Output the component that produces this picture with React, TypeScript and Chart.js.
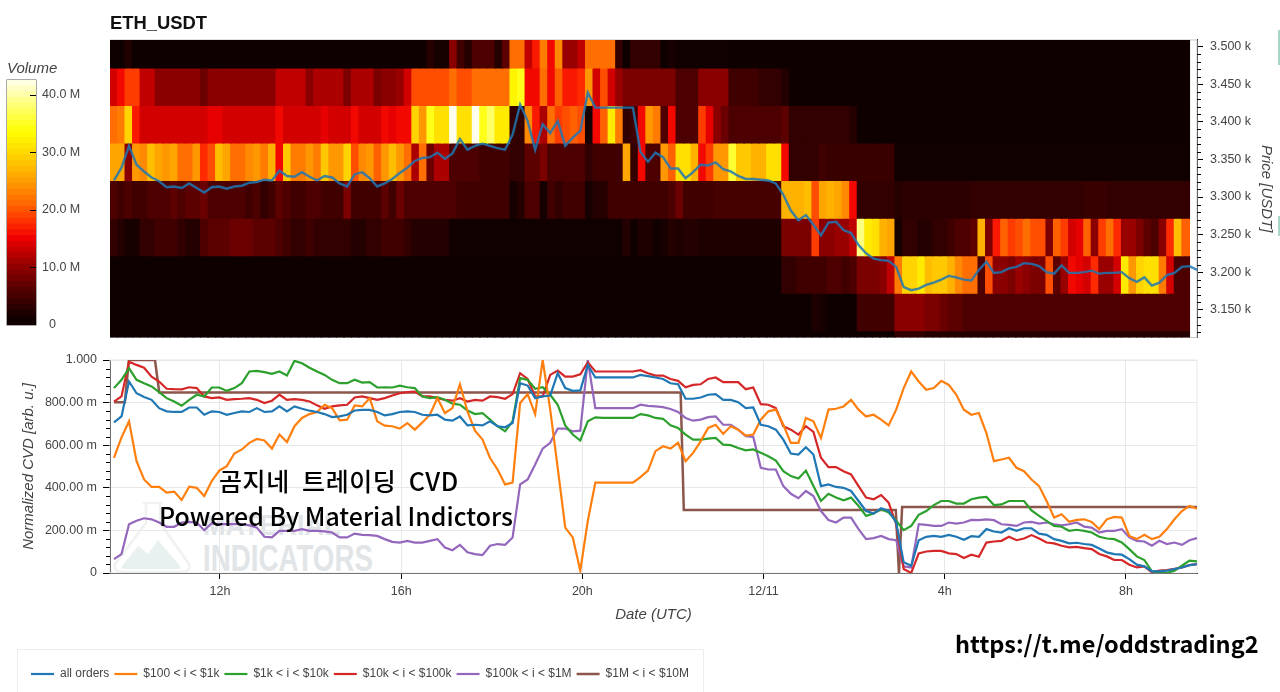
import { useEffect, useRef } from 'react';
import { Chart, registerables } from 'chart.js';

Chart.register(...registerables);

const FONT = '"Liberation Sans", Arial, sans-serif';
const TEXT = '#444444';

// price bins of the heatmap, top to bottom [low, high] in USDT
const PRICE_BINS = [
  [3472, 3522],
  [3422, 3472],
  [3372, 3422],
  [3322, 3372],
  [3272, 3322],
  [3222, 3272],
  [3172, 3222],
  [3122, 3172],
  [3072, 3122],
];

// volume in millions, one value per 10 minute column
const heat3472 = [
  .4, .4, 1.5, .4, .4, .4, .4, .4, .4, .4,
  .4, .4, .4, .4, .4, .4, .4, .4, .4, .4,
  .4, .4, .4, .4, .4, .4, .4, .4, .4, .4,
  .4, .4, .4, .4, .4, .4, .4, .4, .4, .4,
  .4, .4, 2, 1, 1, 9, 4, 2, 5, 5,
  5, 2, 6, 21, 21, 12, 16, 22, 15, 23,
  10, 10, 12, 21, 21, 21, 21, 3, .4, 3,
  3, 3, 3, .4, 1, .5, .5, .5, .5, .5,
  .5, .5, .4, .4, .4, .4, .4, .4, .4, .4,
  .4, .4, .4, .4, .4, .4, .4, .4, .4, .4,
  .4, .4, .4, .4, .4, .4, .4, .4, .4, .4,
  .4, .4, .4, .4, .4, .4, .4, .4, .4, .4,
  .4, .4, .4, .4, .4, .4, .4, .4, .4, .4,
  .4, .4, .4, .4, .4, .4, .4, .4, .4, .4,
  .4, .4, .4,
];
const heat3422 = [
  13, 15, 18, 18, 12, 12, 9, 9, 9, 9,
  9, 9, 7, 9, 9, 9, 9, 9, 9, 9,
  9, 9, 12, 12, 12, 12, 9, 11, 11, 11,
  11, 8, 11, 11, 11, 8, 9, 9, 10, 13,
  19, 19, 19, 19, 19, 21, 19, 19, 21, 21,
  21, 21, 21, 32, 34, 15, 15, 21, 15, 20,
  16, 16, 17, 24, 13, 19, 13, 10, 8, 8,
  8, 8, 8, 8, 8, 5, 5, 5, 9, 9,
  9, 9, 4, 4, 4, 4, 3, 3, 3, 2,
  .4, .4, .4, .4, .4, .4, .4, .4, .4, .4,
  .4, .4, .4, .4, .4, .4, .4, .4, .4, .4,
  .4, .4, .4, .4, .4, .4, .4, .4, .4, .4,
  .4, .4, .4, .4, .4, .4, .4, .4, .4, .4,
  .4, .4, .4, .4, .4, .4, .4, .4, .4, .4,
  .4, .4, .4,
];
const heat3372 = [
  21, 22, 29, 16, 13, 13, 13, 13, 13, 13,
  13, 13, 13, 14, 14, 13, 13, 13, 13, 13,
  13, 13, 15, 13, 13, 13, 13, 13, 14, 13,
  13, 13, 15, 13, 13, 13, 15, 14, 15, 15,
  29, 24, 34, 30, 30, 42, 30, 30, 42, 34,
  37, 31, 31, 3, 3, 23, 16, 11, 21, 18,
  19, 20, 19, 1, 15, 20, 31, 22, 3, 4,
  15, 24, 22, 5, 15, 5, 5, 5, 18, 14,
  9, 7, 5, 5, 5, 5, 5, 5, 5, 6,
  3, 3, 3, 3, 3, 3, 3, 3, 2, .4,
  .4, .4, .4, .4, .4, .4, .4, .4, .4, .4,
  .4, .4, .4, .4, .4, .4, .4, .4, .4, .4,
  .4, .4, .4, .4, .4, .4, .4, .4, .4, .4,
  .4, .4, .4, .4, .4, .4, .4, .4, .4, .4,
  .4, .4, .4,
];
const heat3322 = [
  25, 25, 9, 24, 23, 27, 25, 24, 25, 21,
  21, 24, 17, 19, 27, 25, 21, 21, 23, 24,
  22, 26, 15, 28, 22, 22, 24, 22, 28, 24,
  24, 29, 19, 23, 24, 20, 24, 27, 24, 21,
  11, 21, 7, 11, 11, 5, 5, 5, 5, 4,
  4, 4, 4, 3, 3, 6, 6, 8, 5, 5,
  5, 5, 5, 3, 4, 4, 4, 4, 25, 3,
  15, 5, 5, 24, 20, 30, 30, 26, 15, 18,
  24, 24, 35, 28, 28, 26, 26, 30, 30, 15,
  3, 3, 3, 3, 4, 3.5, 3.5, 3.5, 3.5, 3.5,
  3.5, 3.5, 3.5, 3.5, .5, .5, .5, .5, .5, .5,
  .5, .5, .5, .5, .5, .5, .5, .5, .5, .5,
  .5, .5, .5, .5, .5, .5, .5, .5, .5, .5,
  .5, .5, .5, .5, .5, .5, .5, .5, .5, .5,
  .5, .5, .5,
];
const heat3272 = [
  5, 4, 5, 4, 4, 5, 5, 5, 6, 5,
  6, 6, 7, 5, 5, 5, 5, 5, 4, 5,
  3, 4, 6, 5, 4, 4, 5, 5, 4, 4,
  4, 8, 4, 4, 4, 4, 6, 4, 7, 5,
  5, 5, 5, 5, 5, 5, 4, 4, 4, 4,
  4, 4, 4, 1, 2, 5, 5, 1, 4, 3,
  4, 4, 4, 1, 2, 2, 4, 4, 4, 4,
  4, 4, 4, 4, 5, 7, 4, 4, 4, 4,
  4.5, 4.5, 4.5, 4.5, 4.5, 4.5, 4.5, 4.5, 4.5, 26,
  26, 26, 27, 19, 25, 26, 25, 23, 15, 3,
  3, 3, 3, 3, 2, 2.5, 2.5, 2.5, 2.5, 2.5,
  2.5, 2.5, 2.5, 2.5, 3, 3, 3, 3, 3, 3,
  3, 3, 3, 3, 3, 3, 3, 3, 3, 3.5,
  3.5, 3.5, 3, 3, 3, 3, 3, 3, 3, 3,
  3, 3, 3,
];
const heat3222 = [
  3, 2, 1, 1, 3, 3, 4, 4, 4, 3,
  2, 2, 5, 6, 6, 6, 7, 7, 7, 6,
  6, 6, 5, 4, 3, 3, 4, 3, 3, 3,
  3, 3, 2, 2, 3, 3, 4, 4, 4, 3,
  2, 2, 2, 2, 2, .5, .5, .5, .5, .5,
  .5, .5, .5, .5, .5, .5, .5, .5, .5, .5,
  .5, .5, .5, .5, .5, .5, .5, .5, 2, .5,
  1.5, 1.5, .5, 1, 2, 1.5, 2, 2, 1.5, 1.5,
  1.5, 1.5, 1.5, 1.5, 1.5, 1.5, 1.5, 1.5, 1.5, 8,
  8, 8, 8, 18, 9, 9, 10, 10, 12, 38,
  31, 30, 26, 25, 1, 3, 3, 2, 2, 3,
  3, 4, 5, 5, 6, 26, 8, 16, 20, 18,
  19, 21, 19, 19, 8, 20, 18, 13, 14, 20,
  9, 18, 21, 17, 10, 10, 8, 6, 5, 9,
  17, 27, 20,
];
const heat3172 = [
  .4, .4, .4, .4, .4, .4, .4, .4, .4, .4,
  .4, .4, .4, .4, .4, .4, .4, .4, .4, .4,
  .4, .4, .4, .4, .4, .4, .4, .4, .4, .4,
  .4, .4, .4, .4, .4, .4, .4, .4, .4, .4,
  .4, .4, .4, .4, .4, .4, .4, .4, .4, .4,
  .4, .4, .4, .4, .4, .4, .4, .4, .4, .4,
  .4, .4, .4, .4, .4, .4, .4, .4, .4, .4,
  .4, .4, .4, .4, .4, .4, .4, .4, .4, .4,
  .4, .4, .4, .4, .4, .4, .4, .4, .4, 3,
  3, 4, 4, 4, 4, 5, 5, 4, 5, 8,
  8, 8, 9, 12, 22, 29, 29, 31, 27, 28,
  28, 26, 23, 21, 21, 5, 19, 9, 9, 8,
  10, 9, 8, 8, 19, 6, 10, 15, 14, 13,
  17, 10, 10, 13, 31, 24, 29, 30, 30, 22,
  13, 5, 5,
];
const heat3122 = [
  .4, .4, .4, .4, .4, .4, .4, .4, .4, .4,
  .4, .4, .4, .4, .4, .4, .4, .4, .4, .4,
  .4, .4, .4, .4, .4, .4, .4, .4, .4, .4,
  .4, .4, .4, .4, .4, .4, .4, .4, .4, .4,
  .4, .4, .4, .4, .4, .4, .4, .4, .4, .4,
  .4, .4, .4, .4, .4, .4, .4, .4, .4, .4,
  .4, .4, .4, .4, .4, .4, .4, .4, .4, .4,
  .4, .4, .4, .4, .4, .4, .4, .4, .4, .4,
  .4, .4, .4, .4, .4, .4, .4, .4, .4, .4,
  .4, .4, .4, 1.5, 1, .4, .4, .4, .4, 4,
  4, 4, 4, 4, 9, 9, 9, 9, 8, 8,
  7, 6, 6, 5, 5, 5, 5, 5, 5, 5,
  5, 5, 5, 5, 5, 5, 5, 5, 5, 5,
  5, 5, 5, 5, 5, 5, 5, 5, 5, 5,
  5, 5, 5,
];
const heat3072 = [
  .4, .4, .4, .4, .4, .4, .4, .4, .4, .4,
  .4, .4, .4, .4, .4, .4, .4, .4, .4, .4,
  .4, .4, .4, .4, .4, .4, .4, .4, .4, .4,
  .4, .4, .4, .4, .4, .4, .4, .4, .4, .4,
  .4, .4, .4, .4, .4, .4, .4, .4, .4, .4,
  .4, .4, .4, .4, .4, .4, .4, .4, .4, .4,
  .4, .4, .4, .4, .4, .4, .4, .4, .4, .4,
  .4, .4, .4, .4, .4, .4, .4, .4, .4, .4,
  .4, .4, .4, .4, .4, .4, .4, .4, .4, .4,
  .4, .4, .4, .4, .4, .4, .4, .4, .4, .4,
  .4, .4, .4, .4, 3, 3, 3, 3, 2, 2,
  2, 2, 2, 2, 2, 2, 2, 2, 2, 2,
  2, 2, 2, 2, 2, 2, 2, 2, 2, 2,
  2, 2, 2, 2, 2, 2, 2, 2, 2, 2,
  2, 2, 2,
];
const HEAT_ROWS = [heat3472, heat3422, heat3372, heat3322, heat3272, heat3222, heat3172, heat3122, heat3072];

const price = [
  3322, 3339, 3368, 3343, 3334, 3326, 3321, 3313, 3314, 3312,
  3318, 3312, 3306, 3313, 3314, 3311, 3314, 3315, 3319, 3320,
  3323, 3322, 3335, 3328, 3327, 3333, 3327, 3322, 3328, 3326,
  3318, 3314, 3330, 3333, 3325, 3314, 3318, 3324, 3332, 3339,
  3348, 3352, 3353, 3359, 3351, 3358, 3377, 3363, 3368, 3371,
  3368, 3365, 3363, 3383, 3423, 3401, 3363, 3397, 3385, 3401,
  3368, 3379, 3388, 3439, 3419, 3419, 3419, 3419, 3419, 3419,
  3360, 3347, 3359, 3353, 3338, 3338, 3325, 3333, 3343, 3342,
  3346, 3337, 3334, 3328, 3324, 3324, 3323, 3322, 3318, 3303,
  3282, 3269, 3276, 3263, 3249, 3266, 3267, 3256, 3252, 3236,
  3225, 3218, 3216, 3215, 3207, 3180, 3176, 3178, 3183, 3186,
  3190, 3195, 3193, 3190, 3189, 3203, 3214, 3199, 3200, 3205,
  3207, 3212, 3211, 3208, 3200, 3198, 3209, 3199, 3199, 3200,
  3202, 3198, 3199, 3199, 3200, 3192, 3187, 3193, 3182, 3186,
  3196, 3199, 3207, 3208, 3203,
];

const cvdAll = [
  .707, .735, .899, .844, .826, .813, .774, .759, .756, .756,
  .777, .777, .743, .759, .756, .743, .751, .759, .756, .774,
  .756, .759, .782, .759, .782, .771, .762, .756, .746, .732,
  .735, .743, .763, .766, .766, .756, .740, .746, .756, .759,
  .756, .743, .740, .743, .720, .715, .735, .693, .696, .693,
  .712, .689, .684, .704, .891, .880, .821, .829, .833, .938,
  .868, .855, .857, .977, .918, .918, .918, .918, .918, .918,
  .930, .924, .918, .911, .891, .886, .818, .818, .824, .837,
  .840, .813, .813, .802, .774, .777, .696, .689, .673, .626,
  .561, .556, .590, .556, .408, .416, .404, .400, .385, .338,
  .291, .279, .304, .291, .237, .050, .034, .154, .170, .174,
  .170, .179, .170, .156, .173, .170, .206, .195, .190, .210,
  .198, .210, .210, .185, .179, .159, .151, .139, .142, .136,
  .132, .115, .097, .089, .086, .065, .039, .031, .008, .008,
  .011, .019, .026, .037, .042,
];
const cvd100To1k = [
  .541, .637, .712, .525, .439, .404, .404, .377, .382, .343,
  .405, .400, .361, .432, .481, .502, .561, .580, .611, .629,
  .622, .584, .650, .615, .689, .728, .746, .756, .790, .774,
  .717, .720, .787, .782, .821, .712, .692, .689, .678, .704,
  .673, .707, .743, .821, .751, .774, .886, .759, .668, .626,
  .540, .486, .416, .424, .798, .840, .746, 1.000, .767, .494,
  .213, .167, .011, .245, .424, .424, .424, .424, .424, .424,
  .450, .481, .572, .595, .584, .611, .525, .564, .618, .681,
  .696, .653, .689, .673, .645, .650, .720, .759, .767, .696,
  .611, .611, .728, .712, .634, .767, .771, .782, .813, .767,
  .735, .743, .720, .693, .767, .868, .946, .899, .860, .868,
  .902, .883, .837, .767, .743, .751, .657, .525, .533, .541,
  .494, .478, .439, .408, .338, .260, .276, .240, .249, .252,
  .240, .206, .252, .263, .260, .174, .159, .179, .159, .170,
  .206, .252, .291, .315, .302,
];
const cvd1kTo10k = [
  .868, .907, .961, .907, .891, .876, .849, .821, .805, .785,
  .813, .837, .829, .871, .871, .855, .868, .891, .946, .949,
  .943, .935, .946, .927, .996, .985, .964, .946, .930, .907,
  .891, .891, .907, .894, .896, .871, .872, .871, .880, .872,
  .868, .829, .821, .826, .813, .795, .790, .763, .746, .751,
  .720, .689, .665, .712, .915, .907, .865, .872, .837, .790,
  .693, .650, .622, .712, .731, .728, .728, .728, .728, .728,
  .746, .740, .728, .724, .693, .681, .650, .626, .626, .631,
  .634, .603, .600, .587, .576, .580, .564, .548, .528, .478,
  .455, .444, .481, .408, .338, .372, .354, .341, .354, .315,
  .268, .279, .299, .284, .245, .201, .221, .273, .291, .319,
  .338, .338, .326, .326, .346, .354, .357, .319, .322, .338,
  .338, .338, .294, .268, .245, .221, .217, .198, .203, .198,
  .190, .170, .162, .159, .143, .112, .078, .061, .008, .003,
  0, .011, .034, .058, .055,
];
const cvd10kTo100k = [
  .805, .829, .992, .977, .964, .922, .899, .865, .863, .862,
  .872, .868, .829, .821, .824, .813, .816, .818, .821, .813,
  .798, .809, .837, .813, .816, .813, .805, .787, .771, .782,
  .787, .790, .824, .829, .821, .813, .821, .833, .844, .849,
  .852, .829, .829, .821, .813, .809, .821, .805, .813, .809,
  .829, .826, .818, .840, .938, .911, .829, .829, .930, .950,
  .922, .922, .933, .989, .946, .946, .946, .946, .946, .946,
  .952, .938, .927, .927, .911, .902, .872, .883, .886, .911,
  .918, .896, .896, .896, .863, .871, .793, .790, .774, .689,
  .673, .650, .689, .662, .541, .497, .497, .478, .463, .408,
  .354, .346, .366, .330, .229, .019, 0, .092, .101, .104,
  .104, .092, .089, .070, .086, .076, .143, .148, .151, .170,
  .154, .162, .178, .162, .143, .139, .128, .120, .123, .117,
  .112, .089, .078, .061, .061, .039, .026, .031, .003, .011,
  .014, .019, .026, .037, .042,
];
const cvd100kTo1M = [
  .065, .089, .229, .245, .257, .252, .237, .217, .217, .237,
  .240, .237, .201, .234, .229, .229, .229, .229, .224, .213,
  .170, .167, .198, .198, .198, .206, .198, .198, .195, .190,
  .167, .167, .185, .179, .178, .174, .159, .146, .143, .151,
  .143, .143, .151, .159, .120, .107, .132, .097, .089, .084,
  .128, .136, .132, .167, .416, .439, .509, .584, .611, .678,
  .678, .665, .668, 1.000, .774, .774, .774, .774, .774, .774,
  .790, .785, .782, .779, .770, .756, .728, .715, .720, .732,
  .735, .696, .696, .673, .642, .639, .494, .486, .486, .408,
  .372, .351, .385, .361, .291, .249, .237, .260, .260, .206,
  .159, .164, .174, .159, .154, .031, .026, .229, .226, .221,
  .221, .237, .232, .237, .249, .248, .252, .248, .229, .226,
  .221, .237, .240, .232, .237, .229, .224, .229, .237, .218,
  .213, .190, .198, .198, .206, .167, .151, .148, .128, .151,
  .136, .143, .132, .154, .164,
];
// this one only moves in steps, so it keeps its own times
const stepTimes = [9.66, 9.9, 9.99, 10.565, 10.66, 22.17, 22.24, 26.92, 26.99, 27.06, 33.57];
const cvd1MTo10M = [.802, .802, 1, 1, .847, .847, .296, .296, 0, .31, .31];

const FIRST_TIME = 9.66;
const LAST_TIME = 33.57;
const AXIS_START = 9.572;
const AXIS_END = 33.57;
const lineTimes = price.map((_, i) => FIRST_TIME + (i * (LAST_TIME - FIRST_TIME)) / (price.length - 1));

const timeTicks = [12, 16, 20, 24, 28, 32];
const timeLabels = ['12h', '16h', '20h', '12/11', '4h', '8h'];
const priceMinorTicks = [
  3120, 3130, 3140, 3160, 3170, 3180, 3190, 3210, 3220, 3230, 3240, 3260, 3270, 3280, 3290, 3310, 3320,
  3330, 3340, 3360, 3370, 3380, 3390, 3410, 3420, 3430, 3440, 3460, 3470, 3480, 3490,
];
const cvdMinorTicks = [
  .04, .08, .12, .16, .24, .28, .32, .36, .44, .48, .52, .56, .64, .68, .72, .76, .84, .88, .92, .96,
];
const cvdTickLabels = ['0', '200.00 m', '400.00 m', '600.00 m', '800.00 m', '1.000'];
const volumeTickLabels = ['  0', '10.0 M', '20.0 M', '30.0 M', '40.0 M'];
const volumeTicks = [10, 20, 30, 40];
const volumeLevels = [
  0, 1, 2, 3, 4, 5, 6, 7, 8, 9, 10, 11, 12, 13, 14, 15, 16, 17, 18, 19, 20, 21,
  22, 23, 24, 25, 26, 27, 28, 29, 30, 31, 32, 33, 34, 35, 36, 37, 38, 39, 40, 41, 42,
];

const HEAT_STOPS: [number, number, number, number][] = [
  [0, 10, 0, 0],
  [5, 77, 0, 0],
  [10, 153, 0, 0],
  [14.5, 240, 0, 0],
  [17, 255, 42, 0],
  [20, 255, 96, 0],
  [25, 255, 165, 0],
  [30, 255, 224, 0],
  [33, 255, 255, 0],
  [38, 255, 255, 128],
  [42.6, 255, 255, 255],
];

function heatColor(v: number) {
  for (let i = 1; i < HEAT_STOPS.length; i++) {
    const a = HEAT_STOPS[i - 1];
    const b = HEAT_STOPS[i];
    if (v <= b[0]) {
      const t = (v - a[0]) / (b[0] - a[0]);
      return `rgb(${a[1] + (b[1] - a[1]) * t},${a[2] + (b[2] - a[2]) * t},${a[3] + (b[3] - a[3]) * t})`;
    }
  }
  return '#ffffff';
}

// light outline of the plot area
const framePlugin = (color: string) => ({
  id: 'frame',
  beforeDatasetsDraw(chart: any) {
    const { left, top, width, height } = chart.chartArea;
    const { ctx } = chart;
    ctx.save();
    ctx.strokeStyle = color;
    ctx.strokeRect(left, top, width, height);
    ctx.restore();
  },
});

// chart.js has one tick length per axis, so the short ones are drawn here
const minorTicksPlugin = (axis: string, values: number[], length: number) => ({
  id: 'minorTicks',
  afterDraw(chart: any) {
    const scale = chart.scales[axis];
    const x = scale.position === 'right' ? scale.left : scale.right;
    const { ctx } = chart;
    ctx.save();
    ctx.strokeStyle = '#000';
    ctx.beginPath();
    values.forEach((v) => {
      const y = Math.round(scale.getPixelForValue(v)) + 0.5;
      ctx.moveTo(x, y);
      ctx.lineTo(x + length, y);
    });
    ctx.stroke();
    ctx.restore();
  },
});

const fixWidth = (w: number) => (scale: any) => {
  scale.width = w;
};
const fixHeight = (h: number) => (scale: any) => {
  scale.height = h;
};

function useChart(build: (canvas: HTMLCanvasElement) => Chart) {
  const ref = useRef<HTMLCanvasElement>(null);
  useEffect(() => {
    if (!ref.current) return;
    const chart = build(ref.current);
    return () => chart.destroy();
  }, []);
  return ref;
}

function buildHeatChart(canvas: HTMLCanvasElement) {
  const columns = [...heat3472.map((_, i) => String(i)), 'end'];
  return new Chart(canvas, {
    type: 'bar',
    data: {
      labels: columns,
      datasets: [
        {
          type: 'line',
          label: 'price',
          xAxisID: 'xTime',
          data: price.map((y, i) => ({ x: lineTimes[i], y })),
          borderColor: 'rgba(31,119,180,0.85)',
          borderWidth: 2.4,
          pointRadius: 0,
          tension: 0,
          order: 0,
        },
        ...HEAT_ROWS.map((row, r) => ({
          type: 'bar',
          label: `bin ${PRICE_BINS[r][0]}`,
          data: row.map(() => PRICE_BINS[r]),
          backgroundColor: row.map(heatColor),
          barPercentage: 1,
          categoryPercentage: 1,
          grouped: false,
          inflateAmount: 0.6,
          order: 1,
        })),
      ] as any,
    },
    options: {
      responsive: false,
      animation: false,
      layout: { autoPadding: false, padding: { bottom: 0 } },
      plugins: {
        legend: { display: false },
        tooltip: { enabled: false },
        title: {
          display: true,
          text: 'ETH_USDT',
          align: 'start',
          color: '#111',
          font: { family: FONT, size: 18.4, weight: 'bold', lineHeight: 1.2 },
          padding: { top: 13, bottom: 4.9 },
        },
      },
      scales: {
        x: { display: false },
        xTime: { type: 'linear', display: false, offset: false, min: AXIS_START, max: AXIS_END },
        y: {
          position: 'right',
          min: 3113,
          max: 3509,
          afterFit: fixWidth(83),
          border: { display: true, color: '#000' },
          grid: { drawOnChartArea: false, tickLength: 6, tickColor: '#000' },
          ticks: {
            stepSize: 50,
            includeBounds: false,
            padding: 7,
            color: TEXT,
            font: { family: FONT, size: 12.5 },
            callback: (v) => `${(Number(v) / 1000).toFixed(3)} k`,
          },
          title: {
            display: true,
            text: 'Price [USDT]',
            color: TEXT,
            font: { family: FONT, size: 15, style: 'italic' },
            padding: { top: 5, bottom: 0 },
          },
        },
      },
    },
    plugins: [framePlugin('#c8c8c8'), minorTicksPlugin('y', priceMinorTicks, 4)],
  });
}

function buildCvdChart(canvas: HTMLCanvasElement) {
  const line = (label: string, values: number[], color: string) => ({
    label,
    data: values.map((y, i) => ({ x: lineTimes[i], y })),
    borderColor: color,
    backgroundColor: color,
    borderWidth: 2.2,
    pointRadius: 0,
    tension: 0,
  });
  return new Chart(canvas, {
    type: 'line',
    data: {
      datasets: [
        line('all orders', cvdAll, '#1f77b4'),
        line('$100 < i < $1k', cvd100To1k, '#ff7f0e'),
        line('$1k < i < $10k', cvd1kTo10k, '#2ca02c'),
        line('$10k < i < $100k', cvd10kTo100k, '#d62728'),
        line('$100k < i < $1M', cvd100kTo1M, '#9467bd'),
        {
          ...line('$1M < i < $10M', cvd1MTo10M, '#8c564b'),
          data: cvd1MTo10M.map((y, i) => ({ x: stepTimes[i], y })),
          borderWidth: 2.5,
        },
      ],
    },
    options: {
      responsive: false,
      animation: false,
      layout: { autoPadding: false, padding: { top: 15, left: 26, right: 83, bottom: 2 } },
      plugins: {
        tooltip: { enabled: false },
        legend: {
          position: 'bottom',
          align: 'start',
          labels: {
            usePointStyle: true,
            pointStyle: 'line',
            pointStyleWidth: 23,
            boxHeight: 12,
            padding: 5,
            color: TEXT,
            font: { family: FONT, size: 12 },
          },
        },
      },
      scales: {
        x: {
          type: 'linear',
          min: AXIS_START,
          max: AXIS_END,
          afterFit: fixHeight(90),
          afterBuildTicks: (scale) => {
            scale.ticks = timeTicks.map((value) => ({ value }));
          },
          border: { color: '#000' },
          grid: { color: '#e8e8e8', tickLength: 6, tickColor: '#000' },
          ticks: {
            padding: 5,
            maxRotation: 0,
            color: TEXT,
            font: { family: FONT, size: 12.5 },
            callback: (v) => timeLabels[timeTicks.indexOf(Number(v))],
          },
          title: {
            display: true,
            text: 'Date (UTC)',
            color: TEXT,
            font: { family: FONT, size: 15, style: 'italic' },
            padding: { top: 0, bottom: 39 },
          },
        },
        y: {
          min: 0,
          max: 1,
          afterFit: fixWidth(84),
          border: { color: '#000' },
          grid: { color: '#e8e8e8', tickLength: 7, tickColor: '#000' },
          ticks: {
            stepSize: 0.2,
            padding: 6,
            color: TEXT,
            font: { family: FONT, size: 12.5 },
            callback: (_, i) => cvdTickLabels[i],
          },
          title: {
            display: true,
            text: 'Normalized CVD [arb. u.]',
            color: TEXT,
            font: { family: FONT, size: 15, style: 'italic' },
            padding: { top: -6, bottom: 0 },
          },
        },
      },
    },
    plugins: [framePlugin('#e8e8e8'), minorTicksPlugin('y', cvdMinorTicks, -4)],
  });
}

function buildColorBar(canvas: HTMLCanvasElement) {
  return new Chart(canvas, {
    type: 'bar',
    data: {
      labels: ['Volume'],
      datasets: volumeLevels.map((v) => ({
        label: String(v),
        data: [[v, v + 1.6]],
        backgroundColor: heatColor(v + 0.5),
        barPercentage: 1,
        categoryPercentage: 1,
        grouped: false,
      })) as any,
    },
    options: {
      responsive: false,
      animation: false,
      layout: { autoPadding: false, padding: { left: 7, bottom: 15 } },
      plugins: {
        legend: { display: false },
        tooltip: { enabled: false },
        title: {
          display: true,
          text: 'Volume',
          align: 'start',
          color: TEXT,
          font: { family: FONT, size: 15, style: 'italic', weight: 'normal', lineHeight: 1.2 },
          padding: { top: 5, bottom: 2 },
        },
      },
      scales: {
        x: { display: false },
        y: {
          position: 'right',
          min: 0,
          max: 42.6,
          afterFit: fixWidth(64),
          border: { display: false },
          grid: { display: false, tickLength: 0 },
          ticks: {
            stepSize: 10,
            padding: 6,
            color: TEXT,
            font: { family: FONT, size: 12.5 },
            callback: (_, i) => volumeTickLabels[i],
          },
        },
      },
    },
    plugins: [framePlugin('#555'), minorTicksPlugin('y', volumeTicks, -6)],
  });
}

export default function App() {
  const heatRef = useChart(buildHeatChart);
  const cvdRef = useChart(buildCvdChart);
  const barRef = useChart(buildColorBar);
  const note: React.CSSProperties = {
    position: 'absolute',
    color: '#000',
    whiteSpace: 'nowrap',
    fontFamily: '"Noto Sans CJK KR", "Noto Sans", sans-serif',
    fontWeight: 500,
  };
  const mark: React.CSSProperties = {
    position: 'absolute',
    color: '#e1e5e7',
    fontFamily: FONT,
    fontWeight: 'bold',
    whiteSpace: 'nowrap',
    transformOrigin: 'left top',
  };
  return (
    <div style={{ position: 'fixed', left: 0, top: 0, width: 1280, height: 692, background: '#fff', overflow: 'hidden' }}>
      {/* watermark sits behind the transparent canvas */}
      <svg style={{ position: 'absolute', left: 110, top: 500 }} width="84" height="74" viewBox="0 0 84 74">
        <path d="M33 3h20M36 3v20L5 64q-2 8 7 8h60q9 0 7-8L50 23V3" fill="none" stroke="#f0f1f1" strokeWidth="2.5" />
        <path d="M12 66l16-20 10 8 10-14 22 26q1 3-3 3H15q-5 0-3-3z" fill="#e9f0f0" />
      </svg>
      <div style={{ ...mark, left: 203, top: 508, fontSize: 30, transform: 'scaleX(0.9)' }}>MATERIAL</div>
      <div style={{ ...mark, left: 203, top: 538, fontSize: 36, transform: 'scaleX(0.77)' }}>INDICATORS</div>
      <div style={{ position: 'absolute', left: 17, top: 649, width: 685, height: 50, border: '1px solid #eeeeee' }} />
      <canvas ref={barRef} width={100} height={285} style={{ position: 'absolute', left: 0, top: 55 }} />
      <canvas ref={heatRef} width={1170} height={352} style={{ position: 'absolute', left: 110, top: 0 }} />
      <canvas ref={cvdRef} width={1280} height={347} style={{ position: 'absolute', left: 0, top: 345 }} />
      <div style={{ ...note, left: 219, top: 462, fontSize: 25, letterSpacing: 0.6, wordSpacing: 6 }}>곰지네 트레이딩 CVD</div>
      <div style={{ ...note, left: 159, top: 497, fontSize: 24.9 }}>Powered By Material Indictors</div>
      <div style={{ ...note, left: 955, top: 626, fontSize: 23.5, fontWeight: 700 }}>https://t.me/oddstrading2</div>
      <div style={{ position: 'absolute', left: 1278, top: 30, width: 2, height: 35, background: '#a9d6c9' }} />
      <div style={{ position: 'absolute', left: 1278, top: 216, width: 2, height: 20, background: '#a9d6c9' }} />
    </div>
  );
}
